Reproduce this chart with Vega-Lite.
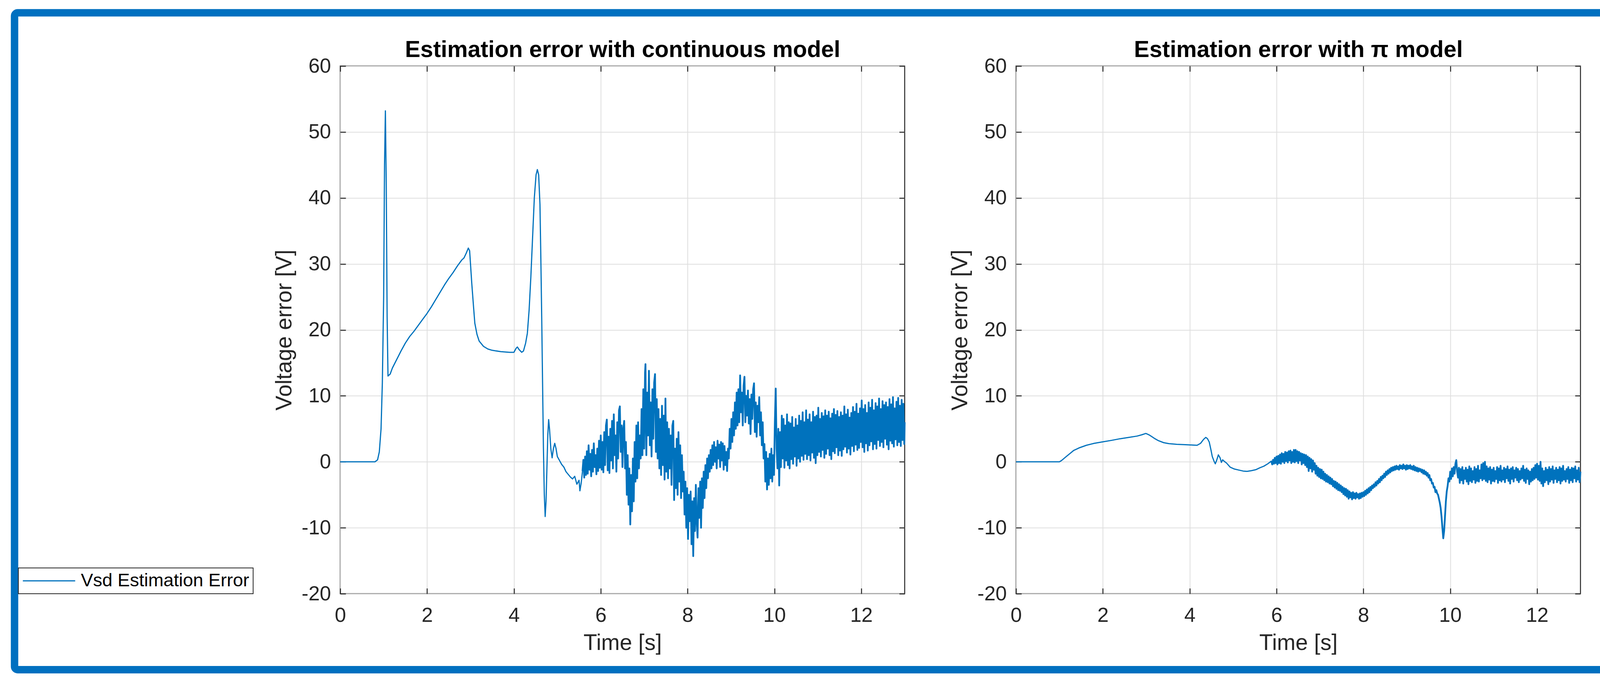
{
  "$schema": "https://vega.github.io/schema/vega-lite/v6.json",
  "background": "white",
  "padding": {"left": 26, "top": 22, "right": 0, "bottom": 0},
  "bounds": "flush",
  "spacing": 285,
  "config": {
    "font": "Liberation Sans",
    "view": {"stroke": "#262626", "strokeWidth": 2.5},
    "axis": {
      "domain": false,
      "grid": true,
      "gridColor": "#dedede",
      "gridWidth": 2,
      "ticks": true,
      "tickSize": -14,
      "tickColor": "#262626",
      "tickWidth": 2.5,
      "labelFont": "Liberation Sans",
      "labelFontSize": 52,
      "labelColor": "#262626",
      "labelOverlap": false,
      "labelFlush": false,
      "titleFont": "Liberation Sans",
      "titleFontSize": 57,
      "titleFontWeight": "normal",
      "titleColor": "#262626"
    }
  },
  "datasets": {
    "cont": [
      {"t":0,"v":0},{"t":0.8,"v":0},{"t":0.86,"v":0.3},{"t":0.9,"v":1.5},{"t":0.94,"v":5},{"t":0.97,"v":12},{"t":1.0,"v":25},{"t":1.02,"v":45},{"t":1.04,"v":53.2},{"t":1.06,"v":42},{"t":1.08,"v":22},{"t":1.1,"v":13},{"t":1.15,"v":13.3},{"t":1.2,"v":14.2},{"t":1.3,"v":15.5},{"t":1.4,"v":16.8},{"t":1.5,"v":18},{"t":1.6,"v":19},{"t":1.7,"v":19.8},{"t":1.8,"v":20.7},{"t":1.9,"v":21.6},{"t":2.0,"v":22.5},{"t":2.1,"v":23.5},{"t":2.2,"v":24.6},{"t":2.3,"v":25.7},{"t":2.4,"v":26.8},{"t":2.5,"v":27.8},{"t":2.6,"v":28.7},{"t":2.7,"v":29.7},{"t":2.8,"v":30.6},{"t":2.85,"v":30.9},{"t":2.9,"v":31.6},{"t":2.95,"v":32.4},{"t":2.98,"v":32.0},{"t":3.0,"v":30},{"t":3.03,"v":27},{"t":3.07,"v":23.5},{"t":3.1,"v":21},{"t":3.15,"v":19.3},{"t":3.2,"v":18.3},{"t":3.3,"v":17.5},{"t":3.4,"v":17.1},{"t":3.5,"v":16.9},{"t":3.7,"v":16.7},{"t":3.9,"v":16.6},{"t":4.0,"v":16.6},{"t":4.05,"v":17.2},{"t":4.08,"v":17.4},{"t":4.12,"v":17.0},{"t":4.18,"v":16.6},{"t":4.22,"v":16.8},{"t":4.27,"v":18},{"t":4.31,"v":19.5},{"t":4.35,"v":23},{"t":4.39,"v":28},{"t":4.43,"v":34},{"t":4.47,"v":40},{"t":4.51,"v":43.5},{"t":4.54,"v":44.3},{"t":4.57,"v":43.5},{"t":4.6,"v":39},{"t":4.62,"v":31},{"t":4.64,"v":22},{"t":4.66,"v":12},{"t":4.68,"v":2},{"t":4.7,"v":-5},{"t":4.72,"v":-8.3},{"t":4.74,"v":-6},{"t":4.76,"v":-1},{"t":4.78,"v":4},{"t":4.8,"v":6.4},{"t":4.82,"v":5},{"t":4.85,"v":2},{"t":4.88,"v":0.6},{"t":4.91,"v":2},{"t":4.94,"v":2.8},{"t":4.97,"v":2},{"t":5.0,"v":0.8},{"t":5.05,"v":0.2},{"t":5.1,"v":-0.4},{"t":5.15,"v":-0.8},{"t":5.2,"v":-1.5},{"t":5.25,"v":-1.9},{"t":5.3,"v":-2.3},{"t":5.35,"v":-2.6},{"t":5.4,"v":-2.2},{"t":5.45,"v":-3.4},{"t":5.5,"v":-2.8},{"t":5.52,"v":-4.4},{"t":5.55,"v":-3.2},{"t":5.58,"v":-1.4},
      {"t":5.60,"v":0.3},{"t":5.62,"v":-2.4},{"t":5.64,"v":0.8},{"t":5.66,"v":-2.0},{"t":5.68,"v":1.6},{"t":5.70,"v":-1.8},{"t":5.72,"v":2.5},{"t":5.74,"v":-1.2},{"t":5.76,"v":1.2},{"t":5.78,"v":-2.2},{"t":5.80,"v":1.8},{"t":5.82,"v":-1.5},{"t":5.84,"v":2.8},{"t":5.86,"v":-0.8},{"t":5.88,"v":1.0},{"t":5.90,"v":-1.9},{"t":5.92,"v":2.0},{"t":5.94,"v":-1.4},{"t":5.96,"v":3.2},{"t":5.98,"v":-0.9},
      {"t":6.00,"v":4.0},{"t":6.02,"v":-1.2},{"t":6.04,"v":3.0},{"t":6.06,"v":-1.6},{"t":6.08,"v":4.5},{"t":6.10,"v":-0.5},{"t":6.12,"v":5.5},{"t":6.14,"v":6.4},{"t":6.16,"v":-1.3},{"t":6.18,"v":3.8},{"t":6.20,"v":-1.7},{"t":6.22,"v":5.0},{"t":6.24,"v":0.2},{"t":6.26,"v":6.2},{"t":6.28,"v":-1.0},{"t":6.30,"v":7.2},{"t":6.32,"v":1.0},{"t":6.34,"v":4.0},{"t":6.36,"v":-1.5},{"t":6.38,"v":6.0},{"t":6.40,"v":0.5},{"t":6.42,"v":7.8},{"t":6.44,"v":8.4},{"t":6.46,"v":1.5},{"t":6.48,"v":5.5},{"t":6.50,"v":-0.8},{"t":6.52,"v":5.0},{"t":6.54,"v":6.2},{"t":6.56,"v":-1.0},{"t":6.58,"v":3.0},{"t":6.60,"v":-5.0},{"t":6.62,"v":1.0},{"t":6.64,"v":-6.5},{"t":6.66,"v":-1.0},{"t":6.68,"v":-9.5},{"t":6.70,"v":-2.0},{"t":6.72,"v":-7.5},{"t":6.74,"v":0.5},{"t":6.76,"v":-6.0},{"t":6.78,"v":3.0},{"t":6.80,"v":-3.0},{"t":6.82,"v":5.5},{"t":6.84,"v":-2.5},{"t":6.86,"v":6.0},{"t":6.88,"v":-1.0},{"t":6.90,"v":4.0},{"t":6.92,"v":0.5},{"t":6.94,"v":8.0},{"t":6.96,"v":1.0},{"t":6.98,"v":11.0},
      {"t":7.00,"v":2.0},{"t":7.02,"v":13.5},{"t":7.03,"v":14.8},{"t":7.05,"v":1.0},{"t":7.07,"v":10.5},{"t":7.09,"v":4.0},{"t":7.11,"v":13.8},{"t":7.13,"v":2.5},{"t":7.15,"v":9.0},{"t":7.17,"v":0.8},{"t":7.19,"v":11.0},{"t":7.21,"v":3.5},{"t":7.23,"v":12.0},{"t":7.25,"v":13.3},{"t":7.27,"v":1.5},{"t":7.29,"v":9.5},{"t":7.31,"v":0.5},{"t":7.33,"v":8.0},{"t":7.35,"v":-1.0},{"t":7.37,"v":6.5},{"t":7.39,"v":-2.0},{"t":7.41,"v":8.5},{"t":7.43,"v":-0.5},{"t":7.45,"v":7.0},{"t":7.47,"v":-2.7},{"t":7.49,"v":9.6},{"t":7.51,"v":-1.5},{"t":7.53,"v":6.0},{"t":7.55,"v":-2.5},{"t":7.57,"v":5.0},{"t":7.59,"v":-1.0},{"t":7.61,"v":4.0},{"t":7.63,"v":-3.5},{"t":7.65,"v":5.5},{"t":7.67,"v":6.2},{"t":7.69,"v":-5.8},{"t":7.71,"v":2.0},{"t":7.73,"v":-4.0},{"t":7.75,"v":3.5},{"t":7.77,"v":-5.0},{"t":7.79,"v":4.5},{"t":7.81,"v":-3.0},{"t":7.83,"v":2.5},{"t":7.85,"v":-5.5},{"t":7.87,"v":1.0},{"t":7.89,"v":-4.5},{"t":7.91,"v":-1.5},{"t":7.93,"v":-8.0},{"t":7.95,"v":-3.0},{"t":7.97,"v":-10.0},{"t":7.99,"v":-4.0},
      {"t":8.01,"v":-11.7},{"t":8.03,"v":-5.0},{"t":8.05,"v":-9.0},{"t":8.07,"v":-4.5},{"t":8.09,"v":-12.5},{"t":8.11,"v":-6.0},{"t":8.13,"v":-14.3},{"t":8.15,"v":-5.5},{"t":8.17,"v":-10.5},{"t":8.19,"v":-3.5},{"t":8.21,"v":-9.0},{"t":8.23,"v":-11.5},{"t":8.25,"v":-4.0},{"t":8.27,"v":-8.5},{"t":8.29,"v":-3.0},{"t":8.31,"v":-10.0},{"t":8.33,"v":-2.5},{"t":8.35,"v":-7.0},{"t":8.37,"v":-1.5},{"t":8.39,"v":-5.5},{"t":8.41,"v":-0.5},{"t":8.43,"v":-4.0},{"t":8.45,"v":0.5},{"t":8.47,"v":-2.5},{"t":8.49,"v":1.0},{"t":8.51,"v":-1.5},{"t":8.53,"v":1.8},{"t":8.55,"v":-1.0},{"t":8.57,"v":2.5},{"t":8.59,"v":-0.5},{"t":8.61,"v":3.0},{"t":8.63,"v":0.0},{"t":8.65,"v":2.2},{"t":8.67,"v":-1.0},{"t":8.69,"v":3.2},{"t":8.71,"v":0.5},{"t":8.73,"v":2.6},{"t":8.75,"v":-0.8},{"t":8.77,"v":3.0},{"t":8.79,"v":0.2},{"t":8.81,"v":2.8},{"t":8.83,"v":-1.2},{"t":8.85,"v":2.4},{"t":8.87,"v":-0.5},{"t":8.89,"v":1.5},{"t":8.91,"v":-1.4},{"t":8.93,"v":2.0},{"t":8.95,"v":0.5},{"t":8.97,"v":5.0},{"t":8.99,"v":2.0},
      {"t":9.01,"v":6.5},{"t":9.03,"v":3.0},{"t":9.05,"v":7.5},{"t":9.07,"v":4.0},{"t":9.09,"v":9.0},{"t":9.11,"v":5.0},{"t":9.13,"v":10.5},{"t":9.15,"v":5.5},{"t":9.17,"v":11.0},{"t":9.19,"v":6.0},{"t":9.21,"v":13.1},{"t":9.23,"v":7.5},{"t":9.25,"v":10.5},{"t":9.27,"v":5.5},{"t":9.29,"v":11.5},{"t":9.31,"v":12.9},{"t":9.33,"v":6.0},{"t":9.35,"v":10.0},{"t":9.37,"v":7.0},{"t":9.39,"v":10.8},{"t":9.41,"v":5.8},{"t":9.43,"v":9.5},{"t":9.45,"v":4.2},{"t":9.47,"v":10.2},{"t":9.49,"v":6.5},{"t":9.51,"v":11.0},{"t":9.53,"v":11.9},{"t":9.55,"v":4.5},{"t":9.57,"v":9.0},{"t":9.59,"v":3.8},{"t":9.61,"v":8.5},{"t":9.63,"v":6.0},{"t":9.65,"v":9.8},{"t":9.67,"v":4.0},{"t":9.69,"v":7.5},{"t":9.71,"v":2.5},{"t":9.73,"v":6.0},{"t":9.75,"v":0.5},{"t":9.77,"v":2.7},{"t":9.79,"v":-3.0},{"t":9.81,"v":1.5},{"t":9.83,"v":-4.2},{"t":9.85,"v":0.5},{"t":9.87,"v":-3.5},{"t":9.89,"v":1.2},{"t":9.91,"v":-2.5},{"t":9.93,"v":2.0},{"t":9.95,"v":-3.0},{"t":9.97,"v":1.0},{"t":9.99,"v":-2.0},
      {"t":10.01,"v":6.0},{"t":10.03,"v":11.1},{"t":10.05,"v":2.0},{"t":10.07,"v":-1.0},{"t":10.09,"v":5.0},{"t":10.11,"v":-3.6},{"t":10.13,"v":4.5},{"t":10.15,"v":-0.8},{"t":10.17,"v":7.0},{"t":10.19,"v":0.5},{"t":10.21,"v":6.5},{"t":10.23,"v":-0.9},{"t":10.25,"v":5.5},{"t":10.27,"v":0.2},{"t":10.29,"v":7.2},{"t":10.31,"v":-0.5},{"t":10.33,"v":6.0},{"t":10.35,"v":-1.0},{"t":10.37,"v":5.8},{"t":10.39,"v":0.4},{"t":10.41,"v":6.8},{"t":10.43,"v":-0.3},{"t":10.45,"v":5.2},{"t":10.47,"v":0.8},{"t":10.49,"v":6.5},{"t":10.51,"v":-0.6},{"t":10.53,"v":5.5},{"t":10.55,"v":0.5},{"t":10.57,"v":7.0},{"t":10.59,"v":0.0},{"t":10.61,"v":6.2},{"t":10.63,"v":0.9},{"t":10.65,"v":7.5},{"t":10.67,"v":0.3},{"t":10.69,"v":6.0},{"t":10.71,"v":1.2},{"t":10.73,"v":7.8},{"t":10.75,"v":0.4},{"t":10.77,"v":6.4},{"t":10.79,"v":1.0},{"t":10.81,"v":7.2},{"t":10.83,"v":0.2},{"t":10.85,"v":6.0},{"t":10.87,"v":1.4},{"t":10.89,"v":7.6},{"t":10.91,"v":0.6},{"t":10.93,"v":6.8},{"t":10.95,"v":-0.2},{"t":10.97,"v":7.0},{"t":10.99,"v":1.0},
      {"t":11.01,"v":8.2},{"t":11.03,"v":1.5},{"t":11.05,"v":6.5},{"t":11.07,"v":0.8},{"t":11.09,"v":7.4},{"t":11.11,"v":1.8},{"t":11.13,"v":6.9},{"t":11.15,"v":0.6},{"t":11.17,"v":7.8},{"t":11.19,"v":1.2},{"t":11.21,"v":7.0},{"t":11.23,"v":2.0},{"t":11.25,"v":7.6},{"t":11.27,"v":1.0},{"t":11.29,"v":6.6},{"t":11.31,"v":0.4},{"t":11.33,"v":7.3},{"t":11.35,"v":1.6},{"t":11.37,"v":8.0},{"t":11.39,"v":1.3},{"t":11.41,"v":7.1},{"t":11.43,"v":2.2},{"t":11.45,"v":7.7},{"t":11.47,"v":1.0},{"t":11.49,"v":6.8},{"t":11.51,"v":1.7},{"t":11.53,"v":7.5},{"t":11.55,"v":0.9},{"t":11.57,"v":7.0},{"t":11.59,"v":1.9},{"t":11.61,"v":8.4},{"t":11.63,"v":2.3},{"t":11.65,"v":7.2},{"t":11.67,"v":1.4},{"t":11.69,"v":7.9},{"t":11.71,"v":2.0},{"t":11.73,"v":6.7},{"t":11.75,"v":1.1},{"t":11.77,"v":7.4},{"t":11.79,"v":2.4},{"t":11.81,"v":8.3},{"t":11.83,"v":1.6},{"t":11.85,"v":7.6},{"t":11.87,"v":2.6},{"t":11.89,"v":8.8},{"t":11.91,"v":1.8},{"t":11.93,"v":7.3},{"t":11.95,"v":2.1},{"t":11.97,"v":8.1},{"t":11.99,"v":3.0},
      {"t":12.01,"v":9.3},{"t":12.03,"v":2.2},{"t":12.05,"v":8.0},{"t":12.07,"v":1.5},{"t":12.09,"v":8.6},{"t":12.11,"v":2.8},{"t":12.13,"v":7.4},{"t":12.15,"v":1.7},{"t":12.17,"v":9.0},{"t":12.19,"v":2.5},{"t":12.21,"v":8.2},{"t":12.23,"v":3.1},{"t":12.25,"v":9.4},{"t":12.27,"v":1.9},{"t":12.29,"v":7.8},{"t":12.31,"v":2.7},{"t":12.33,"v":8.9},{"t":12.35,"v":2.0},{"t":12.37,"v":8.4},{"t":12.39,"v":3.3},{"t":12.41,"v":9.6},{"t":12.43,"v":2.4},{"t":12.45,"v":8.0},{"t":12.47,"v":3.0},{"t":12.49,"v":9.2},{"t":12.51,"v":2.2},{"t":12.53,"v":8.6},{"t":12.55,"v":3.5},{"t":12.57,"v":9.0},{"t":12.59,"v":2.6},{"t":12.61,"v":8.3},{"t":12.63,"v":1.9},{"t":12.65,"v":9.5},{"t":12.67,"v":3.2},{"t":12.69,"v":8.7},{"t":12.71,"v":2.8},{"t":12.73,"v":9.8},{"t":12.75,"v":2.3},{"t":12.77,"v":8.1},{"t":12.79,"v":3.4},{"t":12.81,"v":9.1},{"t":12.83,"v":2.5},{"t":12.85,"v":9.7},{"t":12.87,"v":3.0},{"t":12.89,"v":8.5},{"t":12.91,"v":2.4},{"t":12.93,"v":9.4},{"t":12.95,"v":3.3},{"t":12.97,"v":8.8},{"t":12.99,"v":2.7},{"t":13.0,"v":6.0}
    ],
    "pi": [
      {"t":0,"v":0},{"t":1.0,"v":0},{"t":1.05,"v":0.2},{"t":1.14,"v":0.7},{"t":1.25,"v":1.3},{"t":1.33,"v":1.73},{"t":1.45,"v":2.1},{"t":1.62,"v":2.5},{"t":1.8,"v":2.8},{"t":1.98,"v":3.0},{"t":2.2,"v":3.25},{"t":2.4,"v":3.5},{"t":2.6,"v":3.7},{"t":2.79,"v":3.9},{"t":2.9,"v":4.1},{"t":2.99,"v":4.3},{"t":3.06,"v":4.1},{"t":3.13,"v":3.8},{"t":3.2,"v":3.5},{"t":3.28,"v":3.2},{"t":3.4,"v":2.9},{"t":3.52,"v":2.75},{"t":3.7,"v":2.65},{"t":3.86,"v":2.6},{"t":4.05,"v":2.55},{"t":4.17,"v":2.5},{"t":4.25,"v":2.8},{"t":4.32,"v":3.4},{"t":4.37,"v":3.7},{"t":4.41,"v":3.5},{"t":4.45,"v":3.0},{"t":4.49,"v":1.8},{"t":4.52,"v":0.8},{"t":4.56,"v":0.1},{"t":4.59,"v":-0.3},{"t":4.62,"v":0.2},{"t":4.66,"v":1.05},{"t":4.7,"v":0.6},{"t":4.73,"v":-0.1},{"t":4.76,"v":0.3},{"t":4.79,"v":0.1},{"t":4.85,"v":-0.2},{"t":4.93,"v":-0.8},{"t":5.03,"v":-1.1},{"t":5.13,"v":-1.25},{"t":5.23,"v":-1.4},{"t":5.32,"v":-1.45},{"t":5.42,"v":-1.35},{"t":5.52,"v":-1.2},{"t":5.62,"v":-0.9},{"t":5.71,"v":-0.66},{"t":5.8,"v":-0.3},{"t":5.86,"v":0},
      {"t":5.88,"v":0.1},{"t":5.90,"v":-0.4},{"t":5.92,"v":0.3},{"t":5.94,"v":-0.3},{"t":5.96,"v":0.6},{"t":5.98,"v":-0.2},{"t":6.00,"v":0.8},{"t":6.02,"v":-0.4},{"t":6.04,"v":0.9},{"t":6.06,"v":-0.2},{"t":6.08,"v":1.1},{"t":6.10,"v":-0.3},{"t":6.12,"v":1.3},{"t":6.14,"v":0.0},{"t":6.16,"v":1.2},{"t":6.18,"v":-0.2},{"t":6.20,"v":1.5},{"t":6.22,"v":0.1},{"t":6.24,"v":1.4},{"t":6.26,"v":-0.1},{"t":6.28,"v":1.6},{"t":6.30,"v":0.2},{"t":6.32,"v":1.7},{"t":6.34,"v":-0.2},{"t":6.36,"v":1.5},{"t":6.38,"v":0.0},{"t":6.40,"v":1.8},{"t":6.42,"v":-0.1},{"t":6.44,"v":1.8},{"t":6.46,"v":0.1},{"t":6.48,"v":1.6},{"t":6.50,"v":-0.2},{"t":6.52,"v":1.5},{"t":6.54,"v":0.2},{"t":6.56,"v":1.3},{"t":6.58,"v":-0.4},{"t":6.60,"v":1.2},{"t":6.62,"v":-0.2},{"t":6.64,"v":1.1},{"t":6.66,"v":-0.5},{"t":6.68,"v":1.0},{"t":6.70,"v":-0.8},{"t":6.72,"v":0.8},{"t":6.74,"v":-1.4},{"t":6.76,"v":0.6},{"t":6.78,"v":-1.0},{"t":6.80,"v":0.4},{"t":6.82,"v":-1.5},{"t":6.84,"v":0.2},{"t":6.86,"v":-1.2},{"t":6.88,"v":-0.2},{"t":6.90,"v":-1.8},{"t":6.92,"v":-0.6},{"t":6.94,"v":-2.1},{"t":6.96,"v":-0.9},{"t":6.98,"v":-2.3},
      {"t":7.00,"v":-1.1},{"t":7.02,"v":-2.5},{"t":7.04,"v":-1.2},{"t":7.06,"v":-2.6},{"t":7.08,"v":-1.5},{"t":7.10,"v":-2.8},{"t":7.12,"v":-1.8},{"t":7.14,"v":-3.0},{"t":7.16,"v":-2.0},{"t":7.18,"v":-3.1},{"t":7.20,"v":-2.2},{"t":7.22,"v":-3.3},{"t":7.24,"v":-2.4},{"t":7.26,"v":-3.4},{"t":7.28,"v":-2.6},{"t":7.30,"v":-3.7},{"t":7.32,"v":-2.9},{"t":7.34,"v":-3.9},{"t":7.36,"v":-3.0},{"t":7.38,"v":-4.1},{"t":7.40,"v":-3.2},{"t":7.42,"v":-4.3},{"t":7.44,"v":-3.4},{"t":7.46,"v":-4.4},{"t":7.48,"v":-3.6},{"t":7.50,"v":-4.6},{"t":7.52,"v":-3.8},{"t":7.54,"v":-4.9},{"t":7.56,"v":-4.0},{"t":7.58,"v":-5.1},{"t":7.60,"v":-4.1},{"t":7.62,"v":-5.3},{"t":7.64,"v":-4.3},{"t":7.66,"v":-5.6},{"t":7.68,"v":-4.5},{"t":7.70,"v":-5.4},{"t":7.72,"v":-4.7},{"t":7.74,"v":-5.7},{"t":7.76,"v":-4.6},{"t":7.78,"v":-5.5},{"t":7.80,"v":-4.8},{"t":7.82,"v":-5.6},{"t":7.84,"v":-4.7},{"t":7.86,"v":-5.4},{"t":7.88,"v":-4.9},{"t":7.90,"v":-5.6},{"t":7.92,"v":-4.8},{"t":7.94,"v":-5.5},{"t":7.96,"v":-4.7},{"t":7.98,"v":-5.3},
      {"t":8.00,"v":-4.6},{"t":8.02,"v":-5.2},{"t":8.04,"v":-4.4},{"t":8.06,"v":-5.0},{"t":8.08,"v":-4.2},{"t":8.10,"v":-4.8},{"t":8.12,"v":-4.0},{"t":8.14,"v":-4.6},{"t":8.16,"v":-3.8},{"t":8.18,"v":-4.3},{"t":8.20,"v":-3.6},{"t":8.22,"v":-4.0},{"t":8.24,"v":-3.4},{"t":8.26,"v":-3.8},{"t":8.28,"v":-3.1},{"t":8.30,"v":-3.6},{"t":8.32,"v":-2.9},{"t":8.34,"v":-3.3},{"t":8.36,"v":-2.6},{"t":8.38,"v":-3.1},{"t":8.40,"v":-2.3},{"t":8.42,"v":-2.8},{"t":8.44,"v":-2.1},{"t":8.46,"v":-2.5},{"t":8.48,"v":-1.8},{"t":8.50,"v":-2.3},{"t":8.52,"v":-1.5},{"t":8.54,"v":-2.0},{"t":8.56,"v":-1.3},{"t":8.58,"v":-1.8},{"t":8.60,"v":-1.1},{"t":8.62,"v":-1.6},{"t":8.64,"v":-0.9},{"t":8.66,"v":-1.4},{"t":8.68,"v":-0.8},{"t":8.70,"v":-1.3},{"t":8.72,"v":-0.7},{"t":8.74,"v":-1.2},{"t":8.76,"v":-0.6},{"t":8.78,"v":-1.1},{"t":8.80,"v":-0.7},{"t":8.82,"v":-1.2},{"t":8.84,"v":-0.5},{"t":8.86,"v":-1.0},{"t":8.88,"v":-0.6},{"t":8.90,"v":-1.1},{"t":8.92,"v":-0.4},{"t":8.94,"v":-1.0},{"t":8.96,"v":-0.6},{"t":8.98,"v":-1.2},
      {"t":9.00,"v":-0.5},{"t":9.02,"v":-1.1},{"t":9.04,"v":-0.6},{"t":9.06,"v":-1.0},{"t":9.08,"v":-0.5},{"t":9.10,"v":-1.1},{"t":9.12,"v":-0.7},{"t":9.14,"v":-1.2},{"t":9.16,"v":-0.6},{"t":9.18,"v":-1.3},{"t":9.20,"v":-0.8},{"t":9.22,"v":-1.4},{"t":9.24,"v":-0.9},{"t":9.26,"v":-1.5},{"t":9.28,"v":-1.0},{"t":9.30,"v":-1.4},{"t":9.32,"v":-1.1},{"t":9.34,"v":-1.6},{"t":9.36,"v":-1.2},{"t":9.38,"v":-1.8},{"t":9.40,"v":-1.3},{"t":9.42,"v":-1.9},{"t":9.44,"v":-1.5},{"t":9.46,"v":-2.1},{"t":9.48,"v":-1.7},{"t":9.50,"v":-2.4},{"t":9.52,"v":-2.0},{"t":9.54,"v":-2.8},{"t":9.56,"v":-2.6},{"t":9.58,"v":-3.3},{"t":9.60,"v":-3.2},{"t":9.62,"v":-3.9},{"t":9.64,"v":-3.8},{"t":9.66,"v":-4.6},{"t":9.68,"v":-4.3},{"t":9.70,"v":-4.8},{"t":9.72,"v":-5.0},{"t":9.74,"v":-5.6},{"t":9.76,"v":-6.2},{"t":9.78,"v":-7.0},{"t":9.80,"v":-8.3},{"t":9.82,"v":-10.0},{"t":9.84,"v":-11.6},{"t":9.86,"v":-10.5},{"t":9.88,"v":-8.3},{"t":9.90,"v":-6.0},{"t":9.92,"v":-4.5},{"t":9.94,"v":-3.7},{"t":9.96,"v":-2.5},{"t":9.98,"v":-3.0},
      {"t":10.00,"v":-1.5},{"t":10.02,"v":-2.6},{"t":10.04,"v":-1.0},{"t":10.06,"v":-2.2},{"t":10.08,"v":-0.8},{"t":10.10,"v":-1.8},{"t":10.12,"v":-0.3},{"t":10.14,"v":0.25},{"t":10.16,"v":-1.5},{"t":10.18,"v":-2.4},{"t":10.20,"v":-0.9},{"t":10.22,"v":-3.2},{"t":10.24,"v":-1.1},{"t":10.26,"v":-2.8},{"t":10.28,"v":-0.8},{"t":10.30,"v":-3.3},{"t":10.32,"v":-1.3},{"t":10.34,"v":-2.6},{"t":10.36,"v":-0.9},{"t":10.38,"v":-3.0},{"t":10.40,"v":-1.2},{"t":10.42,"v":-3.4},{"t":10.44,"v":-0.7},{"t":10.46,"v":-2.9},{"t":10.48,"v":-1.0},{"t":10.50,"v":-3.1},{"t":10.52,"v":-1.4},{"t":10.54,"v":-2.7},{"t":10.56,"v":-0.8},{"t":10.58,"v":-3.2},{"t":10.60,"v":-1.1},{"t":10.62,"v":-2.9},{"t":10.64,"v":-0.6},{"t":10.66,"v":-3.0},{"t":10.68,"v":-1.3},{"t":10.70,"v":-2.5},{"t":10.72,"v":-0.4},{"t":10.74,"v":-2.8},{"t":10.76,"v":-0.2},{"t":10.78,"v":-2.6},{"t":10.80,"v":0.0},{"t":10.82,"v":-2.9},{"t":10.84,"v":-0.7},{"t":10.86,"v":-3.1},{"t":10.88,"v":-1.0},{"t":10.90,"v":-2.7},{"t":10.92,"v":-0.8},{"t":10.94,"v":-3.3},{"t":10.96,"v":-1.2},{"t":10.98,"v":-2.9},
      {"t":11.00,"v":-0.9},{"t":11.02,"v":-3.0},{"t":11.04,"v":-1.4},{"t":11.06,"v":-2.6},{"t":11.08,"v":-0.8},{"t":11.10,"v":-3.2},{"t":11.12,"v":-1.0},{"t":11.14,"v":-2.8},{"t":11.16,"v":-0.6},{"t":11.18,"v":-3.0},{"t":11.20,"v":-1.3},{"t":11.22,"v":-2.7},{"t":11.24,"v":-0.9},{"t":11.26,"v":-3.1},{"t":11.28,"v":-1.1},{"t":11.30,"v":-2.5},{"t":11.32,"v":-0.7},{"t":11.34,"v":-2.9},{"t":11.36,"v":-1.2},{"t":11.38,"v":-3.3},{"t":11.40,"v":-1.0},{"t":11.42,"v":-2.6},{"t":11.44,"v":-0.8},{"t":11.46,"v":-3.0},{"t":11.48,"v":-1.3},{"t":11.50,"v":-2.4},{"t":11.52,"v":-0.9},{"t":11.54,"v":-2.8},{"t":11.56,"v":-1.1},{"t":11.58,"v":-3.1},{"t":11.60,"v":-1.4},{"t":11.62,"v":-2.7},{"t":11.64,"v":-1.0},{"t":11.66,"v":-2.5},{"t":11.68,"v":-0.6},{"t":11.70,"v":-2.9},{"t":11.72,"v":-1.2},{"t":11.74,"v":-3.2},{"t":11.76,"v":-1.0},{"t":11.78,"v":-2.6},{"t":11.80,"v":-1.3},{"t":11.82,"v":-3.4},{"t":11.84,"v":-1.5},{"t":11.86,"v":-3.0},{"t":11.88,"v":-1.1},{"t":11.90,"v":-2.8},{"t":11.92,"v":-0.9},{"t":11.94,"v":-2.6},{"t":11.96,"v":-0.5},{"t":11.98,"v":-2.4},
      {"t":12.00,"v":-0.3},{"t":12.02,"v":-2.7},{"t":12.04,"v":-0.6},{"t":12.06,"v":-2.9},{"t":12.08,"v":0.0},{"t":12.10,"v":-3.3},{"t":12.12,"v":-1.0},{"t":12.14,"v":-3.7},{"t":12.16,"v":-1.4},{"t":12.18,"v":-3.1},{"t":12.20,"v":-0.9},{"t":12.22,"v":-2.8},{"t":12.24,"v":-1.2},{"t":12.26,"v":-3.4},{"t":12.28,"v":-0.8},{"t":12.30,"v":-3.0},{"t":12.32,"v":-1.1},{"t":12.34,"v":-2.7},{"t":12.36,"v":-0.7},{"t":12.38,"v":-3.2},{"t":12.40,"v":-1.3},{"t":12.42,"v":-2.6},{"t":12.44,"v":-0.9},{"t":12.46,"v":-3.1},{"t":12.48,"v":-1.2},{"t":12.50,"v":-2.8},{"t":12.52,"v":-0.8},{"t":12.54,"v":-3.3},{"t":12.56,"v":-1.0},{"t":12.58,"v":-2.9},{"t":12.60,"v":-0.6},{"t":12.62,"v":-2.7},{"t":12.64,"v":-1.4},{"t":12.66,"v":-3.0},{"t":12.68,"v":-1.1},{"t":12.70,"v":-2.6},{"t":12.72,"v":-0.8},{"t":12.74,"v":-3.2},{"t":12.76,"v":-1.2},{"t":12.78,"v":-2.8},{"t":12.80,"v":-0.9},{"t":12.82,"v":-3.1},{"t":12.84,"v":-1.0},{"t":12.86,"v":-2.5},{"t":12.88,"v":-0.7},{"t":12.90,"v":-3.0},{"t":12.92,"v":-1.3},{"t":12.94,"v":-2.7},{"t":12.96,"v":-0.9},{"t":12.98,"v":-3.1},{"t":13.0,"v":-1.5}
    ]
  },
  "hconcat": [
    {
      "width": 1445,
      "height": 1351,
      "layer": [
        {
          "data": {"name": "cont"},
          "mark": {"type": "line", "strokeWidth": 3, "strokeJoin": "round"},
          "encoding": {
            "x": {"field": "t", "type": "quantitative", "scale": {"domain": [0, 13], "nice": false, "zero": false},
                  "axis": {"orient": "bottom", "values": [0, 2, 4, 6, 8, 10, 12], "title": "Time [s]", "labelPadding": 44, "titlePadding": 17, "labelExpr": "'' + datum.value"}},
            "y": {"field": "v", "type": "quantitative", "scale": {"domain": [-20, 60], "nice": false, "zero": false},
                  "axis": {"orient": "left", "values": [-20, -10, 0, 10, 20, 30, 40, 50, 60], "title": "Voltage error [V]", "labelPadding": 38, "titlePadding": 14, "labelExpr": "'' + datum.value"}},
            "color": {"datum": "Vsd Estimation Error", "type": "nominal", "scale": {"range": ["#0072BD"]},
                      "legend": {"orient": "none", "legendX": -824, "legendY": 1285, "title": null, "symbolType": "stroke", "symbolSize": 17956, "symbolStrokeWidth": 3, "clipHeight": 46, "labelFont": "Liberation Sans", "labelFontSize": 47, "labelColor": "black", "labelOffset": 13, "labelLimit": 1000, "padding": 10, "strokeColor": "#262626", "fillColor": "white",
                                 "encode": {"legend": {"update": {"strokeWidth": {"value": 2}}}}}}
          }
        },
        {
          "data": {"name": "cont"},
          "transform": [{"filter": "datum.t > 5.57"}],
          "mark": {"type": "line", "strokeWidth": 4.5, "strokeJoin": "round", "color": "#0072BD"},
          "encoding": {
            "x": {"field": "t", "type": "quantitative", "scale": {"domain": [0, 13], "nice": false, "zero": false}, "axis": null},
            "y": {"field": "v", "type": "quantitative", "scale": {"domain": [-20, 60], "nice": false, "zero": false}, "axis": null}
          }
        },
        {
          "data": {"values": [{}]},
          "mark": {"type": "rule", "opacity": 0},
          "encoding": {
            "x": {"datum": 0, "type": "quantitative", "scale": {"domain": [0, 13], "nice": false, "zero": false},
                  "axis": {"orient": "top", "values": [0, 2, 4, 6, 8, 10, 12], "labels": false, "grid": false,
                           "title": "Estimation error with continuous model", "titleFontSize": 59, "titleFontWeight": "bold", "titleColor": "black", "titleBaseline": "alphabetic", "titlePadding": 22}},
            "y": {"datum": 0, "type": "quantitative", "scale": {"domain": [-20, 60], "nice": false, "zero": false},
                  "axis": {"orient": "right", "values": [-20, -10, 0, 10, 20, 30, 40, 50, 60], "labels": false, "title": null, "grid": false}}
          }
        },
        {
          "data": {"values": [{}]},
          "mark": {"type": "rect", "fill": "white", "fillOpacity": 0, "stroke": "#0070C0", "strokeWidth": 19, "cornerRadius": 8, "clip": false},
          "encoding": {
            "x": {"datum": -7.501, "type": "quantitative", "scale": {"domain": [0, 13], "nice": false, "zero": false}, "axis": null},
            "x2": {"datum": 29.717},
            "y": {"datum": 68.063, "type": "quantitative", "scale": {"domain": [-20, 60], "nice": false, "zero": false}, "axis": null},
            "y2": {"datum": -31.515}
          }
        }
      ],
      "resolve": {"axis": {"x": "independent", "y": "independent"}}
    },
    {
      "width": 1445,
      "height": 1351,
      "layer": [
        {
          "data": {"name": "pi"},
          "mark": {"type": "line", "strokeWidth": 3, "strokeJoin": "round"},
          "encoding": {
            "x": {"field": "t", "type": "quantitative", "scale": {"domain": [0, 13], "nice": false, "zero": false},
                  "axis": {"orient": "bottom", "values": [0, 2, 4, 6, 8, 10, 12], "title": "Time [s]", "labelPadding": 44, "titlePadding": 17, "labelExpr": "'' + datum.value"}},
            "y": {"field": "v", "type": "quantitative", "scale": {"domain": [-20, 60], "nice": false, "zero": false},
                  "axis": {"orient": "left", "values": [-20, -10, 0, 10, 20, 30, 40, 50, 60], "title": "Voltage error [V]", "labelPadding": 38, "titlePadding": 14, "labelExpr": "'' + datum.value"}},
            "color": {"datum": "Vsd Estimation Error", "type": "nominal", "scale": {"range": ["#0072BD"]}}
          }
        },
        {
          "data": {"name": "pi"},
          "transform": [{"filter": "datum.t > 5.87"}],
          "mark": {"type": "line", "strokeWidth": 4.5, "strokeJoin": "round", "color": "#0072BD"},
          "encoding": {
            "x": {"field": "t", "type": "quantitative", "scale": {"domain": [0, 13], "nice": false, "zero": false}, "axis": null},
            "y": {"field": "v", "type": "quantitative", "scale": {"domain": [-20, 60], "nice": false, "zero": false}, "axis": null}
          }
        },
        {
          "data": {"values": [{}]},
          "mark": {"type": "rule", "opacity": 0},
          "encoding": {
            "x": {"datum": 0, "type": "quantitative", "scale": {"domain": [0, 13], "nice": false, "zero": false},
                  "axis": {"orient": "top", "values": [0, 2, 4, 6, 8, 10, 12], "labels": false, "grid": false,
                           "title": "Estimation error with π model", "titleFontSize": 59, "titleFontWeight": "bold", "titleColor": "black", "titleBaseline": "alphabetic", "titlePadding": 22}},
            "y": {"datum": 0, "type": "quantitative", "scale": {"domain": [-20, 60], "nice": false, "zero": false},
                  "axis": {"orient": "right", "values": [-20, -10, 0, 10, 20, 30, 40, 50, 60], "labels": false, "title": null, "grid": false}}
          }
        }
      ],
      "resolve": {"axis": {"x": "independent", "y": "independent"}}
    }
  ],
  "resolve": {"scale": {"color": "shared"}, "legend": {"color": "shared"}}
}
